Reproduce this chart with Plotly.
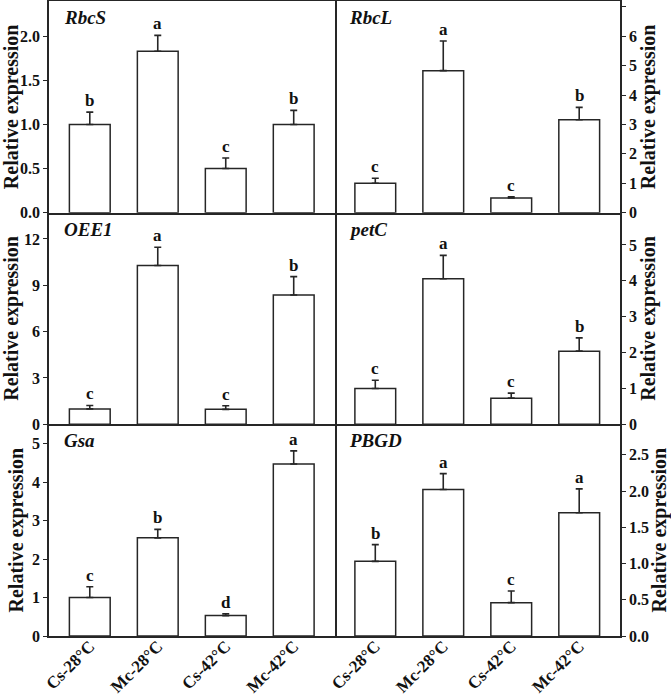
import plotly.graph_objects as go

categories = ["Cs-28°C", "Mc-28°C", "Cs-42°C", "Mc-42°C"]

genes = ["RbcS", "RbcL", "OEE1", "petC", "Gsa", "PBGD"]

rbcs_vals = [1.0, 1.83, 0.5, 1.0]
rbcs_err = [0.14, 0.18, 0.12, 0.16]
rbcs_letters = ["b", "a", "c", "b"]

rbcl_vals = [1.0, 4.83, 0.5, 3.16]
rbcl_err = [0.17, 1.01, 0.04, 0.42]
rbcl_letters = ["c", "a", "c", "b"]

oee1_vals = [1.0, 10.28, 0.97, 8.37]
oee1_err = [0.22, 1.18, 0.23, 1.19]
oee1_letters = ["c", "a", "c", "b"]

petc_vals = [1.0, 4.06, 0.73, 2.04]
petc_err = [0.23, 0.65, 0.14, 0.37]
petc_letters = ["c", "a", "c", "b"]

gsa_vals = [1.0, 2.55, 0.53, 4.47]
gsa_err = [0.28, 0.22, 0.05, 0.34]
gsa_letters = ["c", "b", "d", "a"]

pbgd_vals = [1.03, 2.02, 0.46, 1.70]
pbgd_err = [0.23, 0.22, 0.16, 0.33]
pbgd_letters = ["b", "a", "c", "a"]

y_ranges = [[0, 2.4], [0, 7.2], [0, 13.7], [0, 5.9], [0, 5.5], [0, 2.92]]
y_dticks = [0.5, 1, 3, 1, 1, 0.5]
y_formats = [".1f", "d", "d", "d", "d", ".1f"]

y_title = "Relative expression"

panels = [
    (rbcs_vals, rbcs_err, rbcs_letters),
    (rbcl_vals, rbcl_err, rbcl_letters),
    (oee1_vals, oee1_err, oee1_letters),
    (petc_vals, petc_err, petc_letters),
    (gsa_vals, gsa_err, gsa_letters),
    (pbgd_vals, pbgd_err, pbgd_letters),
]

FONT = "Liberation Serif, Times New Roman, serif"
INK = "#262626"

fig = go.Figure()

row_bounds = [(2 / 3, 1.0), (1 / 3, 2 / 3), (0.0, 1 / 3)]
col_bounds = [(0.0, 0.5), (0.5, 1.0)]

for i, (vals, err, letters) in enumerate(panels):
    n = i + 1
    r, c = divmod(i, 2)
    xa = "x" if n == 1 else f"x{n}"
    ya = "y" if n == 1 else f"y{n}"
    fig.add_trace(go.Bar(
        x=categories, y=vals, xaxis=xa, yaxis=ya, width=0.6,
        marker=dict(color="white", line=dict(color=INK, width=1.5)),
        error_y=dict(type="data", symmetric=False, array=err,
                     arrayminus=[0] * len(err), color=INK,
                     thickness=1.6, width=3.5),
        showlegend=False, hoverinfo="skip",
    ))
    for cat, v, e, lt in zip(categories, vals, err, letters):
        fig.add_annotation(x=cat, y=v + e, xref=xa, yref=ya, text=lt,
                           showarrow=False, yanchor="bottom", yshift=0,
                           font=dict(family=FONT, size=17, color="#111",
                                     weight="bold"))
    fig.add_annotation(x=0.045, y=1, xref=f"{xa} domain", yref=f"{ya} domain",
                       text=genes[i], showarrow=False, xanchor="left",
                       yanchor="top", yshift=-4,
                       font=dict(family=FONT, size=19, color="#111",
                                 weight="bold", style="italic"))

    xkey = "xaxis" if n == 1 else f"xaxis{n}"
    ykey = "yaxis" if n == 1 else f"yaxis{n}"
    fig.update_layout(**{
        xkey: dict(domain=list(col_bounds[c]), anchor=ya,
                   range=[-0.6, 3.6], showline=True, linecolor=INK,
                   linewidth=1.5, mirror=(r == 0), ticks="",
                   showticklabels=(r == 2), tickangle=-45,
                   ticklabelstandoff=-8,
                   tickfont=dict(family=FONT, size=17, color="#111",
                                 weight="bold"),
                   automargin=False,
                   showgrid=False, zeroline=False, fixedrange=True),
        ykey: dict(domain=list(row_bounds[r]), anchor=xa,
                   side="left" if c == 0 else "right",
                   range=y_ranges[i], dtick=y_dticks[i],
                   tickformat=y_formats[i], showline=True, linecolor=INK,
                   linewidth=1.5, mirror=(c == 0), ticks="outside", ticklen=4,
                   tickwidth=1.3, tickcolor=INK,
                   tickfont=dict(family=FONT, size=16, color="#111",
                                 weight="bold"),
                   title=dict(text=y_title, standoff=3,
                              font=dict(family=FONT, size=20, color="#111",
                                        weight="bold")),
                   automargin=False,
                   showgrid=False, zeroline=False, fixedrange=True),
    })

fig.update_layout(
    width=671, height=697,
    margin=dict(l=49, r=51, t=1, b=61),
    paper_bgcolor="white", plot_bgcolor="white",
    bargap=0.4,
)

fig.write_html("out.html",
               config={"displayModeBar": False},
               post_script="document.body.style.margin='0px';")
